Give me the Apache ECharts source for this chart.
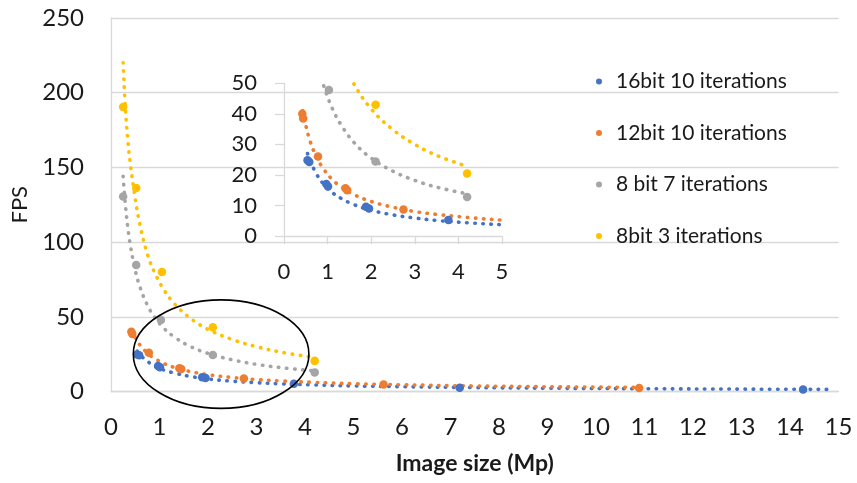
<!DOCTYPE html>
<html>
<head>
<meta charset="utf-8">
<script src="https://cdn.jsdelivr.net/npm/echarts@6/dist/echarts.min.js"></script>
<style>
html,body{margin:0;padding:0;background:#fff;}
#chart{width:857px;height:483px;}
</style>
</head>
<body>
<div id="chart"></div>
<script>
// ---- data ----
const seriesNames = ['16bit 10 iterations', '12bit 10 iterations', '8 bit 7 iterations', '8bit 3 iterations'];
const xTicks = [0,1,2,3,4,5,6,7,8,9,10,11,12,13,14,15];
const yTicks = [0,50,100,150,200,250];
const insetYTicks = [0,10,20,30,40,50];

const blueX = [0.54, 0.58, 0.97, 1.01, 1.88, 1.95, 3.77, 7.19, 14.27];
const blueY = [24.8, 24.2, 17.0, 16.2, 9.6, 9.0, 5.2, 2.5, 1.4];
const orangeX = [0.42, 0.44, 0.78, 1.41, 1.45, 2.74, 5.62, 10.89];
const orangeY = [40.0, 38.5, 26.0, 15.6, 15.0, 8.7, 4.7, 2.3];
const grayX = [0.25, 0.52, 1.03, 2.1, 4.2];
const grayY = [130.6, 84.7, 47.8, 24.4, 12.8];
const yellowX = [0.25, 0.52, 1.05, 2.1, 4.2];
const yellowY = [190.4, 136.2, 80.0, 43.0, 20.5];

// dotted trend curves
const yellowTrendX = [0.25,0.3,0.35,0.4,0.5,0.6,0.75,0.9,1.1,1.3,1.6,2.0,2.5,3.0,3.5,4.2];
const yellowTrendY = [220,188,167,152,129,111,92,79.5,67.6,59,49.9,41.6,34.8,30,26.4,22.8];
const grayTrendX = [0.25,0.3,0.35,0.4,0.5,0.6,0.75,0.9,1.1,1.3,1.6,2.0,2.5,3.0,3.5,4.2];
const grayTrendY = [144,124,109,97.7,81.1,69.7,57.8,49.7,42,36.6,30.7,25.5,21.2,18.2,16.0,13.8];
const orangeTrendX = [0.43,0.5,0.6,0.75,0.9,1.1,1.3,1.6,2.0,2.5,3.0,3.5,4.2,5.0,6.0,7.5,9.0,10.9];
const orangeTrendY = [41.0,36.2,31.0,25.7,22.1,18.6,16.2,13.6,11.3,9.4,8.0,7.1,6.1,5.2,4.5,3.7,3.2,2.7];
const blueTrendX = [0.54,0.6,0.75,0.9,1.1,1.3,1.6,2.0,2.5,3.0,3.5,4.2,5.0,6.0,7.5,9.0,11.0,13.0,14.9];
const blueTrendY = [27.0,24.6,20.2,17.1,14.3,12.4,10.3,8.4,6.9,5.9,5.1,4.35,3.7,3.2,2.6,2.2,1.85,1.6,1.4];

// highlight ellipse (in data units of the main chart)
const ellipseCenter = [2.27, 25.0];
const ellipseRadius = [1.81, 36.3];

// ---- styles ----
const colors = ['#4472C4', '#ED7D31', '#A5A5A5', '#FFC000'];
const FONT = 'Lato';
const TXT = '#1a1a1a';
const AXIS = '#d9d9d9';

const zip = (xs, ys) => xs.map((x, i) => [x, ys[i]]);
const pts = [zip(blueX, blueY), zip(orangeX, orangeY), zip(grayX, grayY), zip(yellowX, yellowY)];
const trends = [zip(blueTrendX, blueTrendY), zip(orangeTrendX, orangeTrendY), zip(grayTrendX, grayTrendY), zip(yellowTrendX, yellowTrendY)];

const series = [];
[0, 1].forEach(g => {
  trends.forEach((d, i) => {
    series.push({
      name: 'trend' + i, type: 'line', xAxisIndex: g, yAxisIndex: g,
      data: d, smooth: 0.4, showSymbol: false, silent: true, clip: true,
      lineStyle: { color: colors[i], width: 3.6, type: [0.5, 7.6], cap: 'round' },
      z: 3
    });
  });
  pts.forEach((d, i) => {
    series.push({
      name: seriesNames[i], type: 'scatter', xAxisIndex: g, yAxisIndex: g,
      data: d, symbol: 'circle', symbolSize: 8.5, clip: true,
      itemStyle: { color: colors[i], opacity: 1 }, z: 4
    });
  });
});

const chart = echarts.init(document.getElementById('chart'), null, { renderer: 'canvas' });
chart.setOption({
  animation: false,
  backgroundColor: '#fff',
  textStyle: { fontFamily: FONT },
  legend: {
    data: seriesNames,
    orient: 'vertical',
    left: 591, top: 66,
    itemWidth: 24, itemHeight: 6, itemGap: 30.5,
    icon: 'circle',
    textStyle: { fontSize: 21, color: TXT, fontFamily: FONT, lineHeight: 20, padding: [0,0,0,0] },
    selectedMode: false
  },
  grid: [
    { left: 111, right: 18.5, top: 18, bottom: 91.5 },
    { left: 284, right: 355, top: 83.3, bottom: 247 }
  ],
  xAxis: [
    {
      type: 'value', gridIndex: 0, min: xTicks[0], max: xTicks[xTicks.length - 1], interval: 1,
      axisLine: { show: true, lineStyle: { color: AXIS, width: 1.3 } },
      axisTick: { show: false }, splitLine: { show: false },
      axisLabel: { fontSize: 24, color: TXT, fontFamily: FONT, margin: 24 },
      name: 'Image size (Mp)', nameLocation: 'middle', nameGap: 61,
      nameTextStyle: { fontSize: 23, fontWeight: 'bold', color: TXT, fontFamily: FONT }
    },
    {
      type: 'value', gridIndex: 1, min: 0, max: 5, interval: 1,
      axisLine: { show: true, onZero: false, lineStyle: { color: AXIS, width: 1.3 } },
      axisTick: { show: true, inside: false, length: 8, lineStyle: { color: AXIS, width: 1.3 } },
      splitLine: { show: false },
      axisLabel: { fontSize: 22, color: TXT, fontFamily: FONT, margin: 25 }
    }
  ],
  yAxis: [
    {
      type: 'value', gridIndex: 0, min: yTicks[0], max: yTicks[yTicks.length - 1], interval: 50,
      axisLine: { show: true, lineStyle: { color: AXIS, width: 1.3 } },
      axisTick: { show: false },
      splitLine: { show: true, lineStyle: { color: AXIS, width: 1.3 } },
      axisLabel: { fontSize: 24, color: TXT, fontFamily: FONT, margin: 27 },
      name: 'FPS', nameLocation: 'middle', nameGap: 80, nameRotate: 90,
      nameTextStyle: { fontSize: 22, color: TXT, fontFamily: FONT }
    },
    {
      type: 'value', gridIndex: 1, min: insetYTicks[0], max: insetYTicks[insetYTicks.length - 1], interval: 10,
      axisLine: { show: true, lineStyle: { color: AXIS, width: 1.3 } },
      axisTick: { show: true, inside: false, length: 9, lineStyle: { color: AXIS, width: 1.3 } },
      splitLine: { show: false },
      axisLabel: { fontSize: 22, color: TXT, fontFamily: FONT, margin: 27 }
    }
  ],
  series: series
});

const c = chart.convertToPixel({ gridIndex: 0 }, ellipseCenter);
const e = chart.convertToPixel({ gridIndex: 0 }, [ellipseCenter[0] + ellipseRadius[0], ellipseCenter[1] + ellipseRadius[1]]);
chart.setOption({
  graphic: [{
    type: 'ellipse', z: 100, silent: true,
    shape: { cx: c[0], cy: c[1], rx: Math.abs(e[0] - c[0]), ry: Math.abs(c[1] - e[1]) },
    style: { fill: 'none', stroke: '#000', lineWidth: 1.6 }
  }]
});
</script>
</body>
</html>
